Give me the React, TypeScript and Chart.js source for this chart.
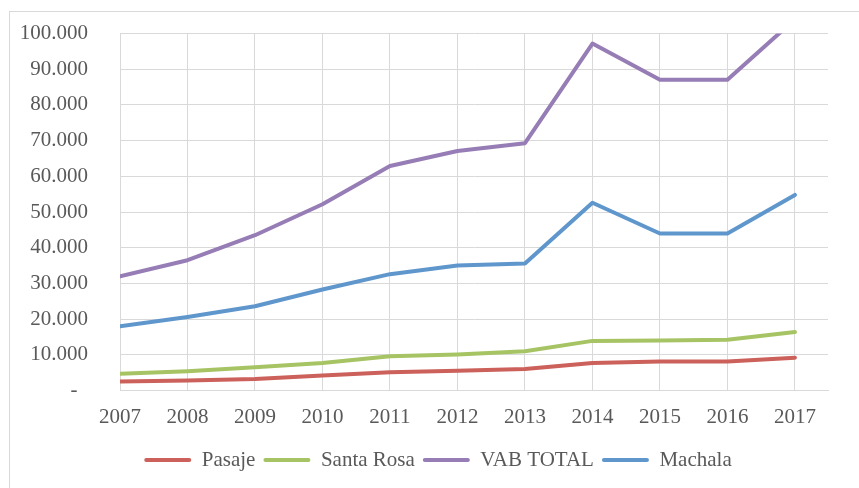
import React, { useEffect, useRef } from "react";
import { Chart, registerables } from "chart.js";

Chart.register(...registerables);

const years = [2007, 2008, 2009, 2010, 2011, 2012, 2013, 2014, 2015, 2016, 2017];
const pasaje = [2500, 2800, 3200, 4200, 5100, 5500, 6000, 7700, 8100, 8100, 9200];
const santaRosa = [4700, 5400, 6500, 7700, 9600, 10100, 11000, 13900, 14000, 14200, 16400];
const vabTotal = [32000, 36500, 43500, 52200, 62900, 67100, 69300, 97200, 87100, 87100, 104000];
const machala = [18000, 20600, 23600, 28300, 32600, 35000, 35600, 52600, 44000, 44000, 54800];
const seriesNames = ["Pasaje", "Santa Rosa", "VAB TOTAL", "Machala"];
const seriesColors = ["#CC605A", "#A6C464", "#977DB5", "#5F97CD"];
const yMax = 100000;
const yStep = 10000;

const FONT = "'Liberation Serif', 'Times New Roman', serif";
const TEXT = "#595959";
const GRID = "#D9D9D9";

function fmt(v: number): string {
  if (v === 0) return "-  ";
  const thousands = Math.round(v / 1000);
  return thousands + ".000";
}

export default function App() {
  const ref = useRef<HTMLCanvasElement | null>(null);

  useEffect(() => {
    document.body.style.margin = "0";
    const canvas = ref.current;
    if (!canvas) return;
    const series = [pasaje, santaRosa, vabTotal, machala];
    const chart = new Chart(canvas, {
      type: "line",
      data: {
        datasets: series.map((vals, i) => ({
          label: seriesNames[i],
          data: years.map((y, j) => ({ x: y, y: vals[j] })),
          borderColor: seriesColors[i],
          backgroundColor: seriesColors[i],
          borderWidth: 4,
          pointRadius: 0,
          pointHoverRadius: 0,
          tension: 0,
          borderCapStyle: "round",
          borderJoinStyle: "round",
          fill: false,
          clip: 0,
          yAxisID: "y",
        })),
      },
      options: {
        animation: false,
        responsive: false,
        maintainAspectRatio: false,
        layout: { padding: { left: 17, right: 0, top: 0, bottom: 7.5 } },
        scales: {
          x: {
            type: "linear",
            min: years[0],
            max: years[years.length - 1] + 0.49,
            grid: { color: GRID, lineWidth: 1, drawTicks: false },
            border: { color: GRID, width: 1 },
            ticks: {
              stepSize: 1,
              includeBounds: false,
              autoSkip: false,
              maxRotation: 0,
              padding: 14,
              color: TEXT,
              font: { family: FONT, size: 21 },
              callback: (v: any) => (Number.isInteger(v) ? String(v) : ""),
            },
            afterFit: (scale: any) => {
              scale.height = 51;
            },
          },
          y: {
            position: "left",
            min: 0,
            max: yMax,
            grid: {
              color: GRID,
              lineWidth: 1,
              drawTicks: true,
              tickLength: 11,
              tickColor: "rgba(0,0,0,0)",
            },
            border: { color: GRID, width: 1 },
            ticks: {
              stepSize: yStep,
              padding: 21,
              color: TEXT,
              font: { family: FONT, size: 21 },
              callback: (v: any) => fmt(Number(v)),
            },
            afterFit: (scale: any) => {
              scale.width = 103;
            },
          },
          yRight: {
            position: "right",
            display: true,
            min: 0,
            max: yMax,
            grid: { display: false, drawTicks: false },
            border: { display: false },
            ticks: { display: false, padding: 0 },
            afterFit: (scale: any) => {
              scale.width = 31;
            },
          },
        },
        plugins: {
          tooltip: { enabled: false },
          title: { display: false },
          legend: {
            display: true,
            position: "bottom",
            labels: {
              color: TEXT,
              font: { family: FONT, size: 21 },
              boxWidth: 47,
              boxHeight: 4,
              padding: 8,
              useBorderRadius: true,
              borderRadius: 2,
              generateLabels: (c: any) => {
                const base = Chart.defaults.plugins.legend.labels.generateLabels(c);
                return base.map((l: any, i: number) => ({
                  ...l,
                  fillStyle: seriesColors[i],
                  strokeStyle: seriesColors[i],
                  lineWidth: 0,
                }));
              },
            },
          },
        },
      },
    });
    return () => chart.destroy();
  }, []);

  return (
    <div style={{ position: "relative", width: 859, height: 488, overflow: "hidden", background: "#fff" }}>
      <div
        style={{
          position: "absolute",
          left: 9,
          top: 11,
          width: 900,
          height: 600,
          border: "1px solid #D9D9D9",
        }}
      />
      <canvas ref={ref} width={859} height={488} style={{ position: "absolute", left: 0, top: 0 }} />
    </div>
  );
}
